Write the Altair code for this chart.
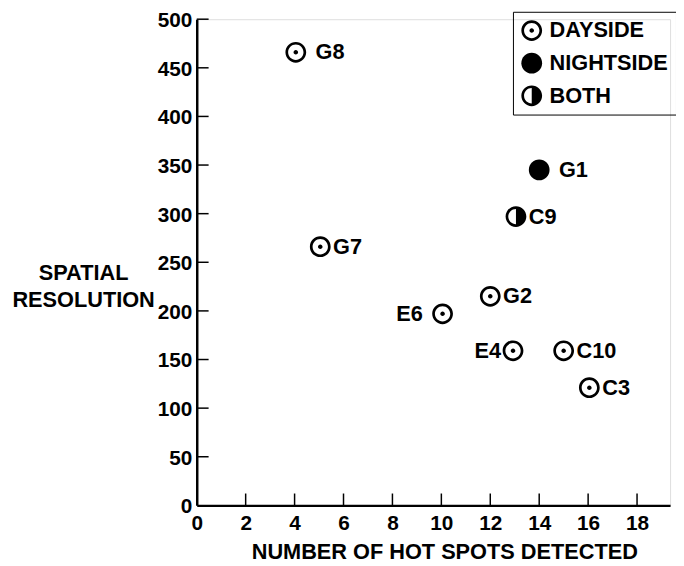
import altair as alt
import pandas as pd

# ---- data ----
names = ["G8", "G7", "E6", "G2", "E4", "C10", "C3", "G1", "C9"]
hot_spots = [4.05, 5.05, 10.05, 12.0, 12.93, 15.0, 16.05, 14.0, 13.05]
resolution = [466, 266, 197, 215, 159, 159, 121, 345, 297]
coverage = ["DAYSIDE", "DAYSIDE", "DAYSIDE", "DAYSIDE", "DAYSIDE",
            "DAYSIDE", "DAYSIDE", "NIGHTSIDE", "BOTH"]
legend_order = ["DAYSIDE", "NIGHTSIDE", "BOTH"]
x_ticks = [0, 2, 4, 6, 8, 10, 12, 14, 16, 18]
y_ticks = [0, 50, 100, 150, 200, 250, 300, 350, 400, 450, 500]

# ---- layout / style ----
W, H = 479, 492
FONT = "Liberation Sans"
X_MAX = 19.35

right_far = ["G8", "G1"]
right_near = ["G7", "C9", "G2", "C10", "C3"]
left_far = ["E6"]
left_near = ["E4"]


def circle(r, sweep):
    return (f"M {-r} 0 A {r} {r} 0 1 {sweep} {r} 0 "
            f"A {r} {r} 0 1 {sweep} {-r} 0 Z")


R_IN, R_DOT = 0.74, 0.22
DAY_PATH = circle(1, 0) + " " + circle(R_IN, 1) + " " + circle(R_DOT, 0)
NIGHT_PATH = circle(1, 0)
BOTH_PATH = circle(1, 0) + f" M 0 {R_IN} A {R_IN} {R_IN} 0 0 1 0 {-R_IN} Z"

df = pd.DataFrame({"name": names, "spots": hot_spots,
                   "res": resolution, "type": coverage})
xt = pd.DataFrame({"v": [v for v in x_ticks if v > 0]})
yt = pd.DataFrame({"v": [v for v in y_ticks if v > 0]})

xscale = alt.Scale(domain=[0, X_MAX], nice=False, zero=False)
yscale = alt.Scale(domain=[0, 500], nice=False)

x_axis = alt.Axis(
    values=x_ticks, title="NUMBER OF HOT SPOTS DETECTED", ticks=False, tickSize=0,
    grid=False, domainColor="black", domainWidth=2.5,
    labelFont=FONT, labelFontSize=21, labelFontWeight="bold", labelColor="black",
    labelPadding=7, labelFlush=False,
    titleFont=FONT, titleFontSize=22, titleFontWeight="bold", titleColor="black",
    titleX=250.5, titleY=54, titleAlign="center", titleBaseline="alphabetic",
)
y_axis = alt.Axis(
    values=y_ticks, title=["SPATIAL", "RESOLUTION"], ticks=False, tickSize=0,
    grid=False, domainColor="black", domainWidth=2.5,
    labelFont=FONT, labelFontSize=21, labelFontWeight="bold", labelColor="black",
    labelPadding=5, labelFlush=False, labelOffset=1.5,
    titleFont=FONT, titleFontSize=22, titleFontWeight="bold", titleColor="black",
    titleAngle=0, titleX=-115, titleY=256.5, titleAlign="center",
    titleBaseline="middle", titleLineHeight=27,
)

base = alt.Chart(df)

points = base.mark_point(filled=True, size=441, color="black", opacity=1,
                         strokeWidth=0).encode(
    x=alt.X("spots:Q", scale=xscale, axis=x_axis),
    y=alt.Y("res:Q", scale=yscale, axis=y_axis),
    shape=alt.Shape(
        "type:N",
        scale=alt.Scale(domain=legend_order,
                        range=[DAY_PATH, NIGHT_PATH, BOTH_PATH]),
        legend=alt.Legend(
            title=None, orient="none", legendX=320, legendY=-7.5,
            strokeColor="black", padding=8, symbolSize=441,
            symbolFillColor="black", symbolStrokeWidth=0, symbolOpacity=1,
            labelFont=FONT, labelFontSize=22, labelFontWeight="bold",
            labelColor="black", labelOffset=7, rowPadding=11,
        ),
    ),
)


def labels(subset, dx, align):
    return base.transform_filter(
        alt.FieldOneOfPredicate(field="name", oneOf=subset)
    ).mark_text(align=align, baseline="middle", dx=dx, font=FONT, fontSize=22,
                fontWeight="bold", color="black").encode(
        x=alt.X("spots:Q", scale=xscale),
        y=alt.Y("res:Q", scale=yscale),
        text="name:N",
    )


x_tick_marks = alt.Chart(xt).mark_rule(color="black", strokeWidth=1.5).encode(
    x=alt.X("v:Q", scale=xscale),
    y=alt.value(H - 12), y2=alt.value(H),
)
y_tick_marks = alt.Chart(yt).mark_rule(color="black", strokeWidth=1.5).encode(
    y=alt.Y("v:Q", scale=yscale),
    x=alt.value(0), x2=alt.value(12),
)

chart = alt.layer(
    x_tick_marks, y_tick_marks, points,
    labels(right_far, 20, "left"), labels(right_near, 13, "left"),
    labels(left_far, -20, "right"), labels(left_near, -12, "right"),
).properties(
    width=W, height=H,
    padding={"left": 191, "top": 8, "right": 6, "bottom": 56},
    autosize=alt.AutoSizeParams(type="none"),
).configure_view(stroke=None).configure(background="white")

chart.save("out.html", embed_options={"renderer": "svg", "actions": False})
